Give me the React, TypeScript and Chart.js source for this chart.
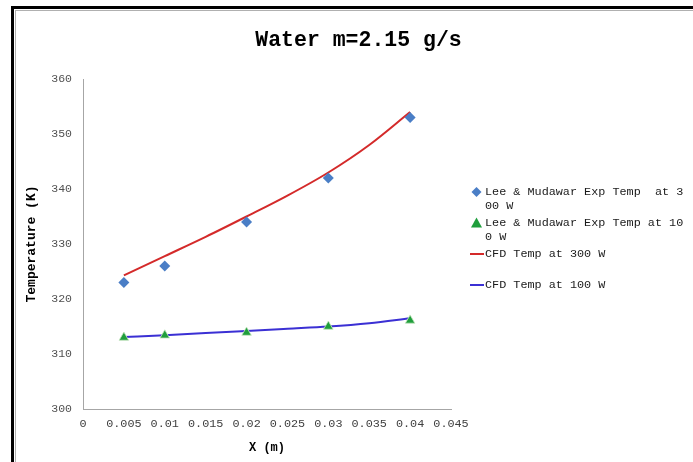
import React, { useEffect, useRef } from "react";
import { Chart, registerables } from "chart.js";

Chart.register(...registerables);

const chartTitle = "Water m=2.15 g/s";
const xAxisTitle = "X (m)";
const yAxisTitle = "Temperature (K)";

const xExp = [0.005, 0.01, 0.02, 0.03, 0.04];
const exp300 = [323, 326, 334, 342, 353];
const exp100 = [313, 313.4, 313.9, 315, 316.1];

const xCfd = [0.005, 0.01, 0.015, 0.02, 0.025, 0.03, 0.035, 0.04];
const cfd300 = [324.3, 327.8, 331.3, 335, 338.8, 343, 348, 354];
const cfd100 = [313.1, 313.4, 313.8, 314.2, 314.6, 315, 315.6, 316.5];

const seriesLabels = [
  "Lee & Mudawar Exp Temp  at 300 W",
  "Lee & Mudawar Exp Temp at 100 W",
  "CFD Temp at 300 W",
  "CFD Temp at 100 W",
];

const xMin = 0;
const xMax = 0.045;
const xStep = 0.005;
const yMin = 300;
const yMax = 360;
const yStep = 10;

const MONO = '"Liberation Mono", "DejaVu Sans Mono", monospace';

function pts(xs: number[], ys: number[]) {
  return xs.map((x, i) => ({ x, y: ys[i] }));
}

const framePlugin = {
  id: "frame",
  beforeDraw(chart: any) {
    const ctx = chart.ctx;
    ctx.save();
    ctx.fillStyle = "#ffffff";
    ctx.fillRect(0, 0, chart.width, chart.height);
    ctx.fillStyle = "#000000";
    ctx.fillRect(11, 6, chart.width - 11, 3);
    ctx.fillRect(11, 6, 3, chart.height - 6);
    ctx.fillStyle = "#b0b0b0";
    ctx.fillRect(15, 10, chart.width - 15, 1);
    ctx.fillRect(15, 10, 1, chart.height - 10);
    ctx.restore();
  },
};

const textPlugin = {
  id: "texts",
  afterDraw(chart: any) {
    const ctx = chart.ctx;
    ctx.save();
    // title
    ctx.fillStyle = "#000000";
    ctx.font = `bold 21.5px ${MONO}`;
    ctx.textAlign = "center";
    ctx.textBaseline = "middle";
    ctx.fillText(chartTitle, 358.5, 41);

    // legend
    ctx.font = `11.8px ${MONO}`;
    ctx.textAlign = "left";
    ctx.textBaseline = "middle";
    const textX = 485;
    const firstY = 192;
    const slot = 31;
    const lineH = 13.5;
    chart.data.datasets.forEach((ds: any, i: number) => {
      const y = firstY + i * slot;
      const label: string = ds.label;
      const lines: string[] = [];
      for (let k = 0; k < label.length; k += 28) lines.push(label.slice(k, k + 28));
      // marker
      if (ds.showLine === false) {
        ctx.fillStyle = ds.backgroundColor;
        ctx.beginPath();
        const cx = 476.5;
        if (ds.pointStyle === "rectRot") {
          const r = 5;
          ctx.moveTo(cx, y - r);
          ctx.lineTo(cx + r, y);
          ctx.lineTo(cx, y + r);
          ctx.lineTo(cx - r, y);
        } else {
          const r = 5.5;
          ctx.moveTo(cx, y - r);
          ctx.lineTo(cx + r, y + r * 0.8);
          ctx.lineTo(cx - r, y + r * 0.8);
        }
        ctx.closePath();
        ctx.fill();
      } else {
        ctx.strokeStyle = ds.borderColor;
        ctx.lineWidth = 2;
        ctx.beginPath();
        ctx.moveTo(470, y);
        ctx.lineTo(484, y);
        ctx.stroke();
      }
      ctx.fillStyle = "#1a1a1a";
      lines.forEach((ln, j) => ctx.fillText(ln, textX, y + j * lineH));
    });
    ctx.restore();
  },
};

export default function App() {
  const ref = useRef<HTMLCanvasElement | null>(null);

  useEffect(() => {
    if (!ref.current) return;
    const chart = new Chart(ref.current, {
      type: "scatter",
      data: {
        datasets: [
          {
            label: seriesLabels[0],
            data: pts(xExp, exp300),
            showLine: false,
            pointStyle: "rectRot",
            pointRadius: 5.5,
            backgroundColor: "#4a7ec6",
            borderColor: "#4a7ec6",
            borderWidth: 0,
            order: 0,
          },
          {
            label: seriesLabels[1],
            data: pts(xExp, exp100),
            showLine: false,
            pointStyle: "triangle",
            pointRadius: 5.5,
            backgroundColor: "#1f9e3c",
            borderColor: "#c8e6c0",
            borderWidth: 0.8,
            order: 0,
          },
          {
            label: seriesLabels[2],
            data: pts(xCfd, cfd300),
            showLine: true,
            pointRadius: 0,
            borderColor: "#d42a2a",
            backgroundColor: "#d42a2a",
            borderWidth: 2,
            tension: 0.4,
            cubicInterpolationMode: "monotone",
            order: 1,
          },
          {
            label: seriesLabels[3],
            data: pts(xCfd, cfd100),
            showLine: true,
            pointRadius: 0,
            borderColor: "#3b30d4",
            backgroundColor: "#3b30d4",
            borderWidth: 2,
            tension: 0.4,
            cubicInterpolationMode: "monotone",
            order: 1,
          },
        ],
      },
      options: {
        animation: false,
        responsive: false,
        maintainAspectRatio: false,
        layout: { padding: { top: 79, left: 20, right: 242, bottom: 0 } },
        plugins: {
          legend: { display: false },
          title: { display: false },
          tooltip: { enabled: false },
        },
        scales: {
          x: {
            type: "linear",
            min: xMin,
            max: xMax,
            grid: { display: false, drawTicks: false },
            border: { display: true, color: "#a6a6a6", width: 1 },
            ticks: {
              stepSize: xStep,
              padding: 8,
              color: "#404040",
              font: { family: MONO, size: 11.8 },
              maxRotation: 0,
              autoSkip: false,
              callback: (v: any) => String(Number(Number(v).toFixed(3))),
            },
            title: {
              display: true,
              text: xAxisTitle,
              color: "#000000",
              font: { family: MONO, size: 12, weight: "bold" },
              padding: { top: 0, bottom: 7 },
            },
            afterFit: (s: any) => {
              s.height = 53;
            },
          },
          y: {
            type: "linear",
            min: yMin,
            max: yMax,
            grid: { display: false, drawTicks: false },
            border: { display: true, color: "#a6a6a6", width: 1 },
            ticks: {
              stepSize: yStep,
              padding: 11,
              color: "#505050",
              font: { family: MONO, size: 11.5 },
            },
            title: {
              display: true,
              text: yAxisTitle,
              color: "#000000",
              font: { family: MONO, size: 13, weight: "bold" },
              padding: { top: 4, bottom: 0 },
            },
            afterFit: (s: any) => {
              s.width = 63;
            },
          },
        },
      },
      plugins: [framePlugin, textPlugin],
    });
    return () => chart.destroy();
  }, []);

  return (
    <div style={{ position: "fixed", left: 0, top: 0, width: 693, height: 462, background: "#fff" }}>
      <canvas ref={ref} width={693} height={462} style={{ display: "block", width: 693, height: 462 }} />
    </div>
  );
}
